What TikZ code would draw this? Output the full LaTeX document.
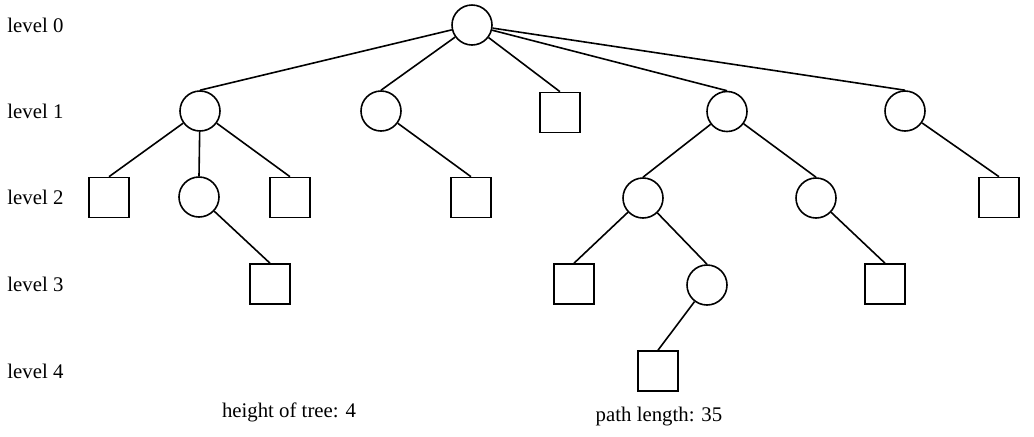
\documentclass[tikz,border=0pt]{standalone}
\usepackage{fontspec}
\setmainfont{Liberation Serif}
\usetikzlibrary{positioning}

\begin{document}
\begin{tikzpicture}[
      x=0.5pt, y=-0.5pt,
      inner/.style={circle, draw, line width=0.8pt, minimum size=20pt, inner sep=0pt},
      leaf/.style={rectangle, draw, line width=0.8pt, minimum size=20pt, inner sep=0pt},
      lvl/.style={anchor=west, font=\fontsize{10.4}{12}\selectfont, inner sep=0pt},
      note/.style={anchor=base, font=\fontsize{10.4}{12}\selectfont, inner sep=0pt},
      edge/.style={line width=0.8pt}
    ]
    \useasboundingbox (0,0) rectangle (1034,436);

    % level labels
    \foreach \l/\y in {0/25, 1/111.5, 2/197.5, 3/284, 4/371}
      \node[lvl] (lvl\l) at (7,\y) {level \l};

    % level 0
    \node[inner] (root) at (472,25) {};

    % level 1
    \node[inner] (a) at (200,111) {};
    \node[inner] (b) at (381,111) {};
    \node[leaf]  (c) at (560,112.5) {};
    \node[inner] (d) at (727,111.5) {};
    \node[inner] (e) at (905,111) {};

    % level 2
    \node[leaf]  (aa) at (109,197.5) {};
    \node[inner] (ab) at (199,197) {};
    \node[leaf]  (ac) at (290,197.5) {};
    \node[leaf]  (ba) at (471,197.5) {};
    \node[inner] (da) at (643,198) {};
    \node[inner] (db) at (816,198) {};
    \node[leaf]  (ea) at (999,197.5) {};

    % level 3
    \node[leaf]  (aba) at (270,284) {};
    \node[leaf]  (daa) at (574,284) {};
    \node[inner] (dab) at (707,285) {};
    \node[leaf]  (dba) at (885,284) {};

    % level 4
    \node[leaf]  (daba) at (658,371) {};

    \foreach \p/\q in {root/a, root/b, root/c, root/d, root/e,
                       a/aa, a/ab, a/ac, b/ba, d/da, d/db, e/ea,
                       ab/aba, da/daa, da/dab, db/dba, dab/daba}
      \draw[edge] (\p) -- (\q.north);

    \node[note] (height) at (289,417) {height of tree: 4};
    \node[note] (plen) at (659,421) {path length: 35};
  \end{tikzpicture}
\end{document}
